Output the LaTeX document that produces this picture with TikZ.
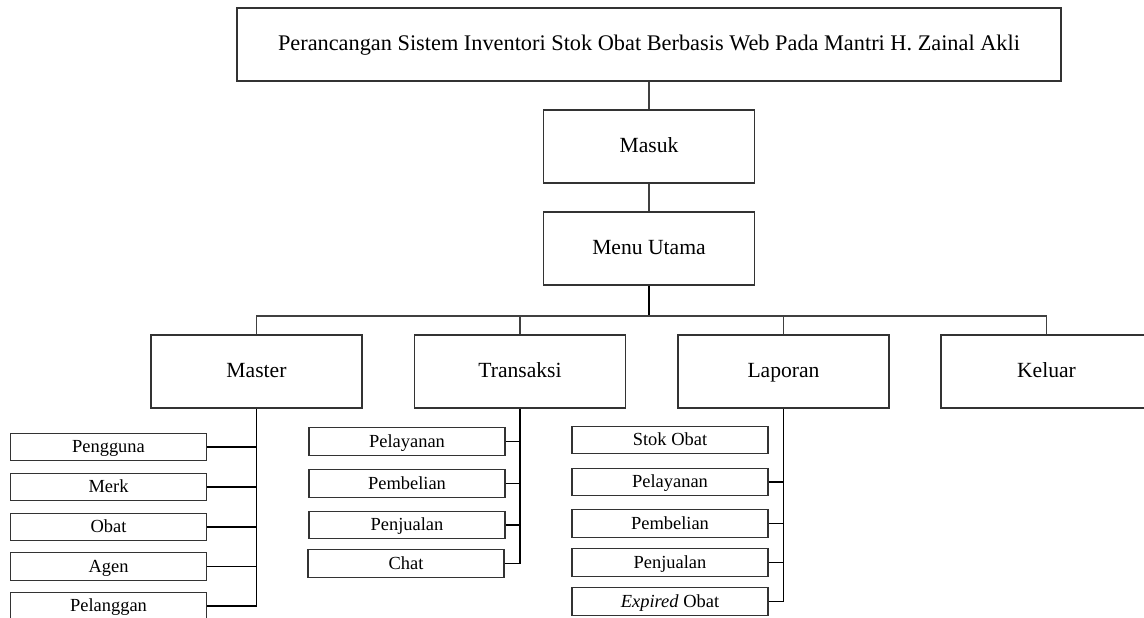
\documentclass[tikz,border=0pt]{standalone}
\usepackage{fontspec}
\setmainfont{Liberation Serif}

\begin{document}
\begin{tikzpicture}[
  judul/.style     = {draw=black!80, line width=0.6pt, inner sep=0pt,
                      minimum width=16.48cm, minimum height=1.46cm,
                      text height=1.5ex, text depth=0.1ex,
                      font=\fontsize{12.7}{14}\selectfont},
  menu/.style      = {draw=black!80, line width=0.6pt, inner sep=0pt,
                      minimum width=4.22cm, minimum height=1.46cm,
                      text height=1.5ex, text depth=0.1ex,
                      font=\fontsize{12.3}{14}\selectfont},
  sub/.style       = {draw=black!80, line width=0.6pt, inner sep=0pt,
                      minimum width=3.92cm, minimum height=0.55cm,
                      text height=1.5ex, text depth=0.1ex,
                      font=\fontsize{10.5}{12}\selectfont},
  link/.style      = {line width=0.6pt, black!75},
  trunk/.style     = {line width=1.1pt},
  branch/.style    = {line width=0.8pt},
]
  % the page cuts Keluar and Pelanggan, as in the source
  \clip (0,0) rectangle (22.88,-12.34);

  \node[judul] (judul) at (12.98,-0.89)
    {Perancangan Sistem Inventori Stok Obat Berbasis Web Pada Mantri H. Zainal Akli};
  \node[menu] (masuk) at (12.98,-2.93) {Masuk};
  \node[menu] (utama) at (12.98,-4.97) {Menu Utama};

  \node[menu] (master)    at (5.13,-7.43)  {Master};
  \node[menu] (transaksi) at (10.40,-7.43) {Transaksi};
  \node[menu] (laporan)   at (15.67,-7.43) {Laporan};
  \node[menu] (keluar)    at (20.93,-7.43) {Keluar};

  \coordinate (bus) at (0,-6.32);

  \draw[link] (judul) -- (masuk);
  \draw[link] (masuk) -- (utama);
  \draw[trunk] (utama) -- (utama |- bus);
  \draw[link] (master.north) |- (keluar.north |- bus) -- (keluar.north);
  \draw[link] (transaksi.north) -- (transaksi.north |- bus);
  \draw[link] (laporan.north) -- (laporan.north |- bus);

  % master data
  \node[sub] (pengguna)  at (2.17,-8.94)  {Pengguna};
  \node[sub] (merk)      at (2.17,-9.74)  {Merk};
  \node[sub] (obat)      at (2.17,-10.54) {Obat};
  \node[sub] (agen)      at (2.17,-11.33) {Agen};
  \node[sub] (pelanggan) at (2.17,-12.12) {Pelanggan};

  \draw[trunk]  (master.south) -- (master.south |- pelanggan.east);
  \draw[branch] (pengguna)  -- (pengguna  -| master.south);
  \draw[branch] (merk)      -- (merk      -| master.south);
  \draw[branch] (obat)      -- (obat      -| master.south);
  \draw[branch] (agen)      -- (agen      -| master.south);
  \draw[branch] (pelanggan) -- (pelanggan -| master.south);

  % transactions
  \node[sub] (tpelayanan) at (8.14,-8.83)  {Pelayanan};
  \node[sub] (tpembelian) at (8.14,-9.67)  {Pembelian};
  \node[sub] (tpenjualan) at (8.14,-10.50) {Penjualan};
  \node[sub] (chat)       at (8.12,-11.27) {Chat};

  \draw[trunk]  (transaksi.south) -- (transaksi.south |- chat.east);
  \draw[branch] (tpelayanan) -- (tpelayanan -| transaksi.south);
  \draw[branch] (tpembelian) -- (tpembelian -| transaksi.south);
  \draw[branch] (tpenjualan) -- (tpenjualan -| transaksi.south);
  \draw[branch] (chat)       -- (chat       -| transaksi.south);

  % reports: Stok Obat is left unlinked
  \node[sub] (stok)       at (13.40,-8.80)  {Stok Obat};
  \node[sub] (lpelayanan) at (13.40,-9.64)  {Pelayanan};
  \node[sub] (lpembelian) at (13.40,-10.47) {Pembelian};
  \node[sub] (lpenjualan) at (13.40,-11.25) {Penjualan};
  \node[sub] (expired)    at (13.40,-12.03) {\textit{Expired} Obat};

  \draw[trunk]  (laporan.south) -- (laporan.south |- expired.east);
  \draw[branch] (lpelayanan) -- (lpelayanan -| laporan.south);
  \draw[branch] (lpembelian) -- (lpembelian -| laporan.south);
  \draw[branch] (lpenjualan) -- (lpenjualan -| laporan.south);
  \draw[branch] (expired)    -- (expired    -| laporan.south);
\end{tikzpicture}
\end{document}
